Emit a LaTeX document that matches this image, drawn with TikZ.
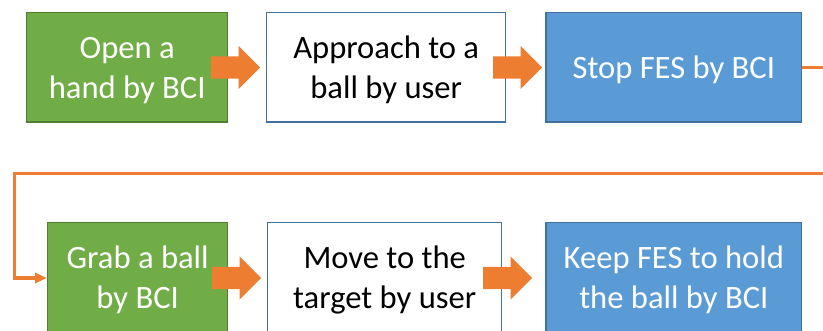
\documentclass[tikz,border=0pt]{standalone}
\usepackage{fontspec}
\setmainfont{Carlito}
\usetikzlibrary{shapes.arrows,arrows.meta}
\definecolor{boxgreen}{HTML}{70AD47}
\definecolor{greenedge}{HTML}{507E32}
\definecolor{boxblue}{HTML}{5B9BD5}
\definecolor{blueedge}{HTML}{41719C}
\definecolor{flow}{HTML}{ED7D31}
% line strut: 31pt above the baseline, 9pt below
\newcommand\linestrut{\rule[-9pt]{0pt}{40pt}}
\tikzset{
  stage/.style={rectangle, inner sep=0pt, line width=1.3pt, align=center,
    minimum height=109.3pt, font=\fontsize{32.6}{40}\selectfont},
  bcistage/.style={stage, fill=boxgreen, draw=greenedge, text=white},
  userstage/.style={stage, fill=white, draw=blueedge, text=black},
  fesstage/.style={stage, fill=boxblue, draw=blueedge, text=white},
  blockarrow/.style={single arrow, anchor=tail, fill=flow, draw=none,
    inner xsep=0pt, inner ysep=11pt, text height=0pt, text depth=0pt,
    minimum height=49pt, single arrow head extend=10.5pt,
    single arrow tip angle=90},
  loopline/.style={draw=flow, line width=3.3pt,
    -{Triangle[length=12pt,width=10pt]}}
}
\begin{document}
\begin{tikzpicture}[x=1pt,y=-1pt]
  \clip (0,0) rectangle (823,331);
  \fill[white] (0,0) rectangle (823,331);
  % first row
  \node[bcistage, minimum width=201pt] (b1) at (127.2,67.35)
    {\linestrut Open a\\\linestrut hand by BCI};
  \node[userstage, minimum width=239pt] (b2) at (386.2,67.35)
    {\linestrut Approach to a\\\linestrut ball by user};
  \node[fesstage, minimum width=255.7pt] (b3) at (673.85,67.35)
    {\linestrut Stop FES by BCI};
  % second row
  \node[bcistage, minimum width=180pt, minimum height=110.6pt] (b4) at (137.7,278)
    {\linestrut Grab a ball\\\linestrut by BCI};
  \node[userstage, minimum width=234pt, minimum height=110.6pt] (b5) at (384.7,278)
    {\linestrut Move to the\\\linestrut target by user};
  \node[fesstage, minimum width=255.7pt, minimum height=110.6pt] (b6) at (673.85,278)
    {\linestrut Keep FES to hold\\\linestrut the ball by BCI};
  % block arrows between stages
  \node[blockarrow] (a1) at (211,67.5) {};
  \node[blockarrow] (a2) at (493,67.5) {};
  \node[blockarrow] (a3) at (212,278) {};
  \node[blockarrow] (a4) at (483,278) {};
  % return line from the end of the first row to the second row
  \coordinate (turnR) at (845,173.3);
  \coordinate (turnL) at (14.3,173.3);
  \draw[loopline] (b3.east) -| (turnR) -- (turnL) |- (b4.west);
\end{tikzpicture}
\end{document}
